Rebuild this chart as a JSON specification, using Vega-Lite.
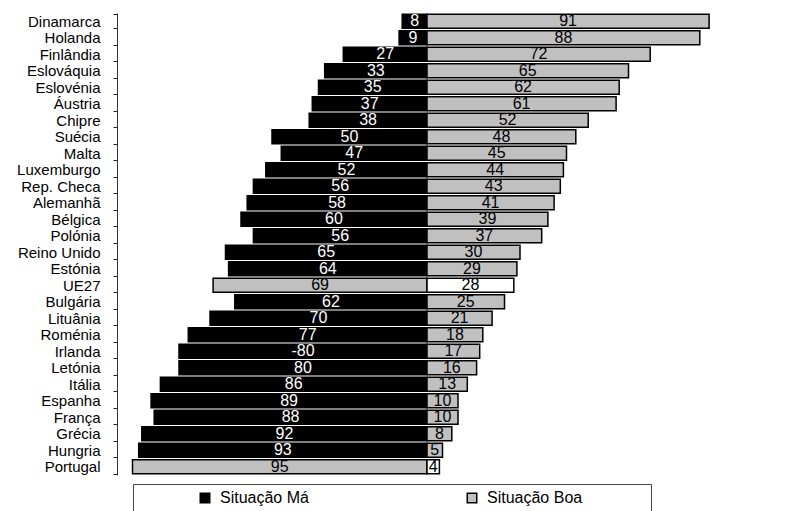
{
  "$schema": "https://vega.github.io/schema/vega-lite/v6.json",
  "autosize": "none",
  "width": 620,
  "height": 462,
  "padding": {"left": 117, "top": 13, "right": 58, "bottom": 36},
  "background": "white",
  "config": {
    "font": "Liberation Sans",
    "view": {"stroke": null}
  },
  "data": {
    "values": [
      {"pais": "Dinamarca", "situacao": "Situação Má", "valor": -8, "rotulo": "8"},
      {"pais": "Dinamarca", "situacao": "Situação Boa", "valor": 91, "rotulo": "91"},
      {"pais": "Holanda", "situacao": "Situação Má", "valor": -9, "rotulo": "9"},
      {"pais": "Holanda", "situacao": "Situação Boa", "valor": 88, "rotulo": "88"},
      {"pais": "Finlândia", "situacao": "Situação Má", "valor": -27, "rotulo": "27"},
      {"pais": "Finlândia", "situacao": "Situação Boa", "valor": 72, "rotulo": "72"},
      {"pais": "Eslováquia", "situacao": "Situação Má", "valor": -33, "rotulo": "33"},
      {"pais": "Eslováquia", "situacao": "Situação Boa", "valor": 65, "rotulo": "65"},
      {"pais": "Eslovénia", "situacao": "Situação Má", "valor": -35, "rotulo": "35"},
      {"pais": "Eslovénia", "situacao": "Situação Boa", "valor": 62, "rotulo": "62"},
      {"pais": "Áustria", "situacao": "Situação Má", "valor": -37, "rotulo": "37"},
      {"pais": "Áustria", "situacao": "Situação Boa", "valor": 61, "rotulo": "61"},
      {"pais": "Chipre", "situacao": "Situação Má", "valor": -38, "rotulo": "38"},
      {"pais": "Chipre", "situacao": "Situação Boa", "valor": 52, "rotulo": "52"},
      {"pais": "Suécia", "situacao": "Situação Má", "valor": -50, "rotulo": "50"},
      {"pais": "Suécia", "situacao": "Situação Boa", "valor": 48, "rotulo": "48"},
      {"pais": "Malta", "situacao": "Situação Má", "valor": -47, "rotulo": "47"},
      {"pais": "Malta", "situacao": "Situação Boa", "valor": 45, "rotulo": "45"},
      {"pais": "Luxemburgo", "situacao": "Situação Má", "valor": -52, "rotulo": "52"},
      {"pais": "Luxemburgo", "situacao": "Situação Boa", "valor": 44, "rotulo": "44"},
      {"pais": "Rep. Checa", "situacao": "Situação Má", "valor": -56, "rotulo": "56"},
      {"pais": "Rep. Checa", "situacao": "Situação Boa", "valor": 43, "rotulo": "43"},
      {"pais": "Alemanhã", "situacao": "Situação Má", "valor": -58, "rotulo": "58"},
      {"pais": "Alemanhã", "situacao": "Situação Boa", "valor": 41, "rotulo": "41"},
      {"pais": "Bélgica", "situacao": "Situação Má", "valor": -60, "rotulo": "60"},
      {"pais": "Bélgica", "situacao": "Situação Boa", "valor": 39, "rotulo": "39"},
      {"pais": "Polónia", "situacao": "Situação Má", "valor": -56, "rotulo": "56"},
      {"pais": "Polónia", "situacao": "Situação Boa", "valor": 37, "rotulo": "37"},
      {"pais": "Reino Unido", "situacao": "Situação Má", "valor": -65, "rotulo": "65"},
      {"pais": "Reino Unido", "situacao": "Situação Boa", "valor": 30, "rotulo": "30"},
      {"pais": "Estónia", "situacao": "Situação Má", "valor": -64, "rotulo": "64"},
      {"pais": "Estónia", "situacao": "Situação Boa", "valor": 29, "rotulo": "29"},
      {"pais": "UE27", "situacao": "Situação Má", "valor": -69, "rotulo": "69"},
      {"pais": "UE27", "situacao": "Situação Boa", "valor": 28, "rotulo": "28"},
      {"pais": "Bulgária", "situacao": "Situação Má", "valor": -62, "rotulo": "62"},
      {"pais": "Bulgária", "situacao": "Situação Boa", "valor": 25, "rotulo": "25"},
      {"pais": "Lituânia", "situacao": "Situação Má", "valor": -70, "rotulo": "70"},
      {"pais": "Lituânia", "situacao": "Situação Boa", "valor": 21, "rotulo": "21"},
      {"pais": "Roménia", "situacao": "Situação Má", "valor": -77, "rotulo": "77"},
      {"pais": "Roménia", "situacao": "Situação Boa", "valor": 18, "rotulo": "18"},
      {"pais": "Irlanda", "situacao": "Situação Má", "valor": -80, "rotulo": "-80"},
      {"pais": "Irlanda", "situacao": "Situação Boa", "valor": 17, "rotulo": "17"},
      {"pais": "Letónia", "situacao": "Situação Má", "valor": -80, "rotulo": "80"},
      {"pais": "Letónia", "situacao": "Situação Boa", "valor": 16, "rotulo": "16"},
      {"pais": "Itália", "situacao": "Situação Má", "valor": -86, "rotulo": "86"},
      {"pais": "Itália", "situacao": "Situação Boa", "valor": 13, "rotulo": "13"},
      {"pais": "Espanha", "situacao": "Situação Má", "valor": -89, "rotulo": "89"},
      {"pais": "Espanha", "situacao": "Situação Boa", "valor": 10, "rotulo": "10"},
      {"pais": "França", "situacao": "Situação Má", "valor": -88, "rotulo": "88"},
      {"pais": "França", "situacao": "Situação Boa", "valor": 10, "rotulo": "10"},
      {"pais": "Grécia", "situacao": "Situação Má", "valor": -92, "rotulo": "92"},
      {"pais": "Grécia", "situacao": "Situação Boa", "valor": 8, "rotulo": "8"},
      {"pais": "Hungria", "situacao": "Situação Má", "valor": -93, "rotulo": "93"},
      {"pais": "Hungria", "situacao": "Situação Boa", "valor": 5, "rotulo": "5"},
      {"pais": "Portugal", "situacao": "Situação Má", "valor": -95, "rotulo": "95"},
      {"pais": "Portugal", "situacao": "Situação Boa", "valor": 4, "rotulo": "4"}
    ]
  },
  "encoding": {
    "y": {
      "field": "pais",
      "type": "nominal",
      "sort": null,
      "title": null,
      "scale": {"paddingInner": 0.15, "paddingOuter": 0.075},
      "axis": {
        "orient": "left",
        "tickBand": "extent",
        "tickSize": 4,
        "tickColor": "#222",
        "domainColor": "#333",
        "labelFontSize": 15,
        "labelColor": "black",
        "labelPadding": 13,
        "labelFont": "Liberation Sans"
      }
    }
  },
  "layer": [
    {
      "mark": {"type": "bar", "stroke": "black", "strokeWidth": 1.5},
      "encoding": {
        "x": {
          "field": "valor",
          "type": "quantitative",
          "stack": null,
          "scale": {"domain": [-100, 100], "nice": false},
          "axis": null
        },
        "color": {
          "field": "situacao",
          "type": "nominal",
          "scale": {"domain": ["Situação Má", "Situação Boa"], "range": ["#000000", "#c0c0c0"]},
          "condition": [
            {"test": "(datum.pais == 'UE27' || datum.pais == 'Portugal') && datum.situacao == 'Situação Má'", "value": "#c0c0c0"},
            {"test": "(datum.pais == 'UE27' || datum.pais == 'Portugal') && datum.situacao == 'Situação Boa'", "value": "#ffffff"}
          ],
          "legend": {
            "orient": "none",
            "legendX": 16,
            "legendY": 471,
            "direction": "horizontal",
            "columns": 2,
            "columnPadding": 155,
            "padding": 6,
            "strokeColor": "#444",
            "fillColor": "white",
            "title": "\u00a0",
            "titleOrient": "left",
            "titlePadding": 58,
            "titleFontSize": 16,
            "symbolType": "square",
            "symbolSize": 90,
            "symbolStrokeColor": "black",
            "symbolStrokeWidth": 1.5,
            "symbolOpacity": 1,
            "labelFontSize": 16,
            "labelColor": "black",
            "labelOffset": 7,
            "labelLimit": 400,
            "labelExpr": "indexof(datum.label, 'Boa') >= 0 ? datum.label + '\u00a0\u00a0\u00a0\u00a0\u00a0\u00a0\u00a0\u00a0\u00a0\u00a0\u00a0\u00a0\u00a0\u00a0\u200b' : datum.label"
          }
        }
      }
    },
    {
      "mark": {"type": "text", "fontSize": 16, "baseline": "middle", "align": "center"},
      "encoding": {
        "x": {
          "field": "valor",
          "type": "quantitative",
          "scale": {"domain": [-200, 200], "nice": false},
          "axis": null
        },
        "text": {"field": "rotulo"},
        "color": {
          "condition": {"test": "datum.situacao == 'Situação Má' && datum.pais != 'UE27' && datum.pais != 'Portugal'", "value": "white"},
          "value": "black"
        }
      }
    }
  ],
  "resolve": {"scale": {"x": "independent"}}
}
